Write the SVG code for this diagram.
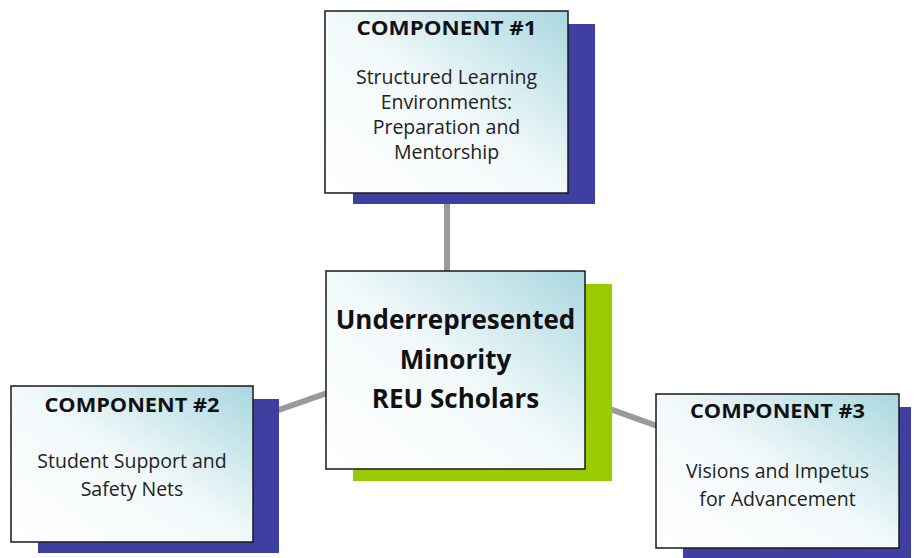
<svg xmlns="http://www.w3.org/2000/svg" width="914" height="558" viewBox="0 0 914 558">
<defs>
<linearGradient id="fill" x1="0" y1="1" x2="1" y2="0">
<stop offset="0" stop-color="#ffffff"/>
<stop offset="0.5" stop-color="#f2f9fa"/>
<stop offset="1" stop-color="#a9d7df"/>
</linearGradient>
<style>
.front{fill:url(#fill);stroke:#1a1a1a;stroke-width:1.5}
.shadow{fill:#3f3fa2}
.green{fill:#9acb00}
.conn{stroke:#9a9a9a;stroke-width:6;fill:none}
.hd{font-family:"Open Sans","Liberation Sans",sans-serif;font-weight:bold;font-size:19px;fill:#111;text-anchor:middle}
.bd{font-family:"Open Sans","Liberation Sans",sans-serif;font-size:19.5px;fill:#222;text-anchor:middle}
.ct{font-family:"Open Sans","Liberation Sans",sans-serif;font-weight:bold;font-size:26px;fill:#111;text-anchor:middle}
</style>
</defs>
<rect width="914" height="558" fill="#ffffff"/>
<g id="connectors">
<line class="conn" x1="447" y1="193" x2="447" y2="271"/>
<line class="conn" x1="270" y1="413" x2="330" y2="392"/>
<line class="conn" x1="585" y1="400" x2="660" y2="427"/>
</g>
<g id="component1">
<rect class="shadow" x="353" y="24" width="242" height="180"/>
<rect class="front" x="325" y="11" width="243" height="182"/>
<text class="hd" x="446.5" y="35" textLength="180" lengthAdjust="spacingAndGlyphs">COMPONENT #1</text>
<text class="bd" x="446.5" y="84">Structured Learning</text>
<text class="bd" x="446.5" y="109">Environments:</text>
<text class="bd" x="446.5" y="134">Preparation and</text>
<text class="bd" x="446.5" y="159">Mentorship</text>
</g>
<g id="center">
<rect class="green" x="353" y="284" width="259" height="197"/>
<rect class="front" x="326" y="271" width="259" height="198"/>
<text class="ct" x="455.5" y="329">Underrepresented</text>
<text class="ct" x="455.5" y="369">Minority</text>
<text class="ct" x="455.5" y="408">REU Scholars</text>
</g>
<g id="component2">
<rect class="shadow" x="38" y="399" width="241" height="154"/>
<rect class="front" x="11" y="386" width="242" height="156"/>
<text class="hd" x="132" y="412" textLength="175" lengthAdjust="spacingAndGlyphs">COMPONENT #2</text>
<text class="bd" x="132" y="468">Student Support and</text>
<text class="bd" x="132" y="496">Safety Nets</text>
</g>
<g id="component3">
<rect class="shadow" x="683" y="407" width="228" height="151"/>
<rect class="front" x="656" y="394" width="243" height="154"/>
<text class="hd" x="777.5" y="418" textLength="175" lengthAdjust="spacingAndGlyphs">COMPONENT #3</text>
<text class="bd" x="777.5" y="478">Visions and Impetus</text>
<text class="bd" x="777.5" y="506">for Advancement</text>
</g>
</svg>
